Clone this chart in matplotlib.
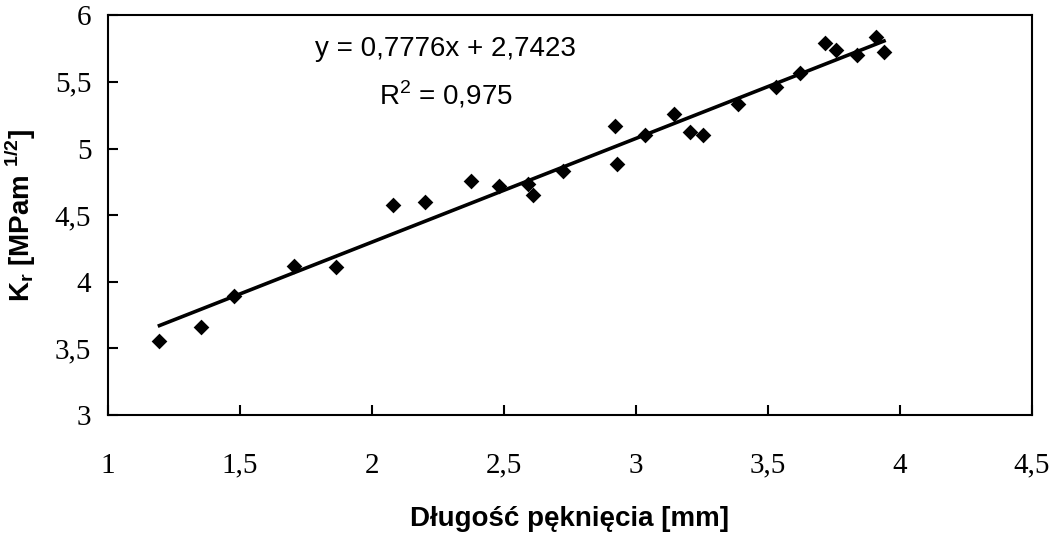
import matplotlib.pyplot as plt
import numpy as np
from matplotlib.ticker import FuncFormatter

plt.rcParams["mathtext.fontset"] = "custom"
plt.rcParams["mathtext.rm"] = "Liberation Sans"
plt.rcParams["mathtext.bf"] = "Liberation Sans:bold"

# crack length [mm] and K_r values
crack_len = [1.195, 1.353, 1.479, 1.706, 1.863, 2.081, 2.200, 2.377, 2.480,
             2.591, 2.609, 2.726, 2.921, 2.930, 3.034, 3.144, 3.207, 3.255,
             3.387, 3.532, 3.623, 3.718, 3.759, 3.837, 3.910, 3.941]
k_r = [3.559, 3.664, 3.895, 4.115, 4.110, 4.579, 4.596, 4.754, 4.717,
       4.737, 4.654, 4.829, 5.168, 4.887, 5.105, 5.256, 5.123, 5.105,
       5.331, 5.464, 5.569, 5.795, 5.739, 5.699, 5.840, 5.724]

slope = 0.7776
intercept = 2.7423
r2 = 0.975

x_ticks = [1, 1.5, 2, 2.5, 3, 3.5, 4, 4.5]
y_ticks = [3, 3.5, 4, 4.5, 5, 5.5, 6]

fig = plt.figure(figsize=(10.64, 5.44), dpi=100)
ax = fig.add_axes([0.1015, 0.237, 0.868, 0.735])

ax.scatter(crack_len, k_r, marker="D", s=64, color="black", zorder=3,
           linewidths=0)
xs = np.array([min(crack_len), max(crack_len)])
ax.plot(xs, slope * xs + intercept, color="black", lw=2.6, zorder=2)

ax.set_xlim(1, 4.5)
ax.set_ylim(3, 6)
ax.set_xticks(x_ticks)
ax.set_yticks(y_ticks)

comma = FuncFormatter(lambda v, p: f"{v:g}".replace(".", ","))
ax.xaxis.set_major_formatter(comma)
ax.yaxis.set_major_formatter(comma)

ax.tick_params(axis="x", direction="in", length=7, width=1.5, pad=27,
               labelsize=21, top=False)
ax.tick_params(axis="y", direction="in", length=7, width=1.5, pad=12,
               labelsize=21, right=False)
for lab in ax.get_xticklabels() + ax.get_yticklabels():
    lab.set_fontfamily("Liberation Serif")

for sp in ax.spines.values():
    sp.set_linewidth(1.5)
    sp.set_color("black")

ax.set_xlabel("Długość pęknięcia [mm]", fontsize=20, fontweight="bold",
              family="Liberation Sans", labelpad=20)
ax.set_ylabel(r"$\mathbf{K_r}$ [MPam $^{\mathbf{1/2}}$]", fontsize=20,
              fontweight="bold", family="Liberation Sans", labelpad=12)

eq = f"y = {slope:.4f}x + {intercept:.4f}".replace(".", ",")
ax.text(2.28, 5.75, eq, fontsize=20, family="Liberation Sans",
        ha="center", va="center")
ax.text(2.28, 5.4, "R$^2$ = " + f"{r2:.3f}".replace(".", ","), fontsize=20,
        family="Liberation Sans", ha="center", va="center")

fig.savefig("out.png", dpi=100)
